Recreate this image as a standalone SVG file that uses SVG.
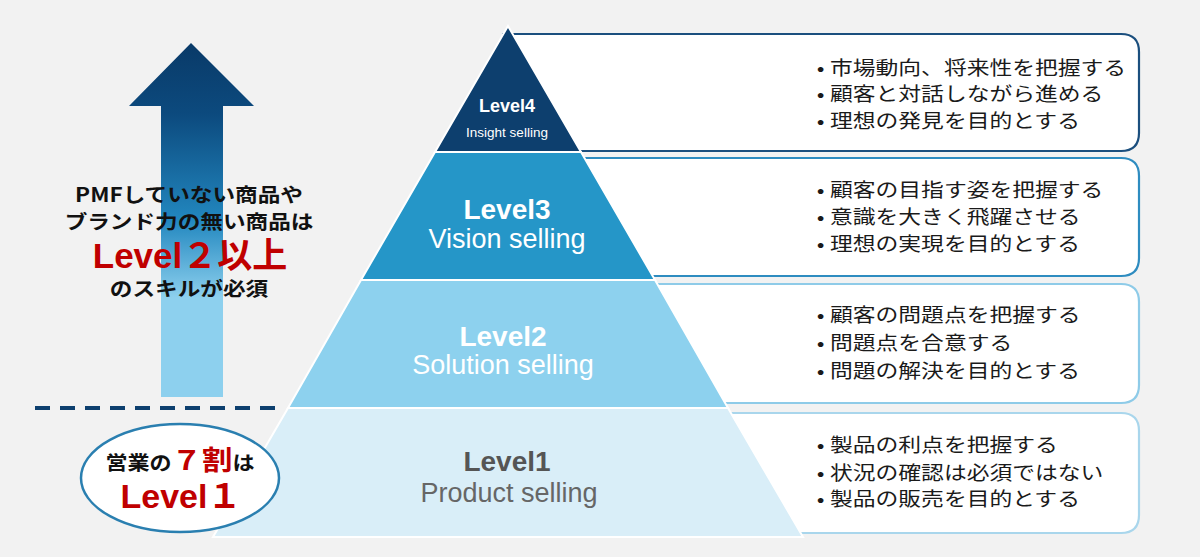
<svg xmlns="http://www.w3.org/2000/svg" width="1200" height="557" viewBox="0 0 1200 557">
<defs>
<linearGradient id="arrowGrad" gradientUnits="userSpaceOnUse" x1="0" y1="43" x2="0" y2="397">
<stop offset="0" stop-color="#093a68"/>
<stop offset="0.2" stop-color="#0c4a7e"/>
<stop offset="0.5" stop-color="#2287bf"/>
<stop offset="0.72" stop-color="#8dd0ee"/>
<stop offset="1" stop-color="#8dd0ee"/>
</linearGradient>
</defs>
<style>
.box{fill:#ffffff;stroke-width:2.2}
.band{stroke:#ffffff;stroke-width:2}
.bul{font-family:"Noto Sans CJK JP","Noto Sans",sans-serif;font-size:19px;fill:#1a1a1a}
.lvB{font-family:"Liberation Sans",Arial,sans-serif;font-weight:bold;font-size:28px;text-anchor:middle}
.lvS{font-family:"Liberation Sans",Arial,sans-serif;font-size:27px;text-anchor:middle}
.jp{font-family:"Noto Sans CJK JP",sans-serif;font-weight:bold;fill:#111111;text-anchor:middle}
.lat{font-family:"Liberation Sans","Noto Sans CJK JP",sans-serif;font-weight:bold;text-anchor:middle}
.red{fill:#c00000}
</style>
<rect width="1200" height="557" fill="#f2f2f2"/>

<g id="connectors">
<path d="M191,43 L254,106 L223,106 L223,397 L161,397 L161,106 L129,106 Z" fill="url(#arrowGrad)"/>
<line x1="35" y1="408" x2="276" y2="408" stroke="#0d3f6e" stroke-width="4" stroke-dasharray="15 10"/>
</g>

<g id="box4">
<path class="box" stroke="#1b4f7e" d="M504,34 H1121 Q1139,34 1139,52 V133 Q1139,151 1121,151 H572 Z"/>
<g transform="translate(830 0) scale(1.2 1)">
<text class="bul" x="-11" y="75">•<tspan x="0">市場動向、将来性を把握する</tspan></text>
<text class="bul" x="-11" y="101.5">•<tspan x="0">顧客と対話しながら進める</tspan></text>
<text class="bul" x="-11" y="128">•<tspan x="0">理想の発見を目的とする</tspan></text>
</g>
</g>
<g id="box3">
<path class="box" stroke="#2e8cc0" d="M576,158 H1121 Q1139,158 1139,176 V258 Q1139,276 1121,276 H644 Z"/>
<g transform="translate(830 0) scale(1.2 1)">
<text class="bul" x="-11" y="197.5">•<tspan x="0">顧客の目指す姿を把握する</tspan></text>
<text class="bul" x="-11" y="224.5">•<tspan x="0">意識を大きく飛躍させる</tspan></text>
<text class="bul" x="-11" y="251.5">•<tspan x="0">理想の実現を目的とする</tspan></text>
</g>
</g>
<g id="box2">
<path class="box" stroke="#8ecbe8" d="M649,284 H1121 Q1139,284 1139,302 V385 Q1139,403 1121,403 H717 Z"/>
<g transform="translate(830 0) scale(1.2 1)">
<text class="bul" x="-11" y="322.5">•<tspan x="0">顧客の問題点を把握する</tspan></text>
<text class="bul" x="-11" y="350.5">•<tspan x="0">問題点を合意する</tspan></text>
<text class="bul" x="-11" y="378">•<tspan x="0">問題の解決を目的とする</tspan></text>
</g>
</g>
<g id="box1">
<path class="box" stroke="#a9d6ec" d="M723,413 H1121 Q1139,413 1139,431 V515 Q1139,533 1121,533 H792 Z"/>
<g transform="translate(830 0) scale(1.2 1)">
<text class="bul" x="-11" y="452.5">•<tspan x="0">製品の利点を把握する</tspan></text>
<text class="bul" x="-11" y="480">•<tspan x="0">状況の確認は必須ではない</tspan></text>
<text class="bul" x="-11" y="506.5">•<tspan x="0">製品の販売を目的とする</tspan></text>
</g>
</g>

<g id="level4">
<polygon class="band" fill="#0d3f6e" points="508,26 581,152 435,152"/>
<text x="507" y="112" font-family="Liberation Sans, Arial, sans-serif" font-weight="bold" font-size="18" fill="#ffffff" text-anchor="middle">Level4</text>
<text x="507" y="137" font-family="Liberation Sans, Arial, sans-serif" font-size="13.5" fill="#ffffff" text-anchor="middle">Insight selling</text>
</g>
<g id="level3">
<polygon class="band" fill="#2596c8" points="435,152 581,152 655,280 361,280"/>
<text class="lvB" x="507" y="219" fill="#ffffff">Level3</text>
<text class="lvS" x="507" y="248" fill="#ffffff">Vision selling</text>
</g>
<g id="level2">
<polygon class="band" fill="#8dd1ee" points="361,280 655,280 728,408 288,408"/>
<text class="lvB" x="503" y="346" fill="#ffffff">Level2</text>
<text class="lvS" x="503" y="374" fill="#ffffff">Solution selling</text>
</g>
<g id="level1">
<polygon class="band" fill="#d9eef8" points="288,408 728,408 803,537 213,537"/>
<text class="lvB" x="507" y="471" fill="#555555">Level1</text>
<text class="lvS" x="509" y="502" fill="#666666">Product selling</text>
</g>

<g id="note">
<g transform="translate(189 0) scale(1.16 1)">
<text class="jp" x="0" y="202" font-size="19.5">PMFしていない商品や</text>
<text class="jp" x="0" y="229" font-size="19.5">ブランド力の無い商品は</text>
<text class="jp" x="0" y="296" font-size="19.5">のスキルが必須</text>
</g>
<text class="lat red" x="190" y="268" font-size="35">Level２以上</text>
</g>

<g id="ellipse">
<ellipse cx="180" cy="478" rx="99" ry="54" fill="#ffffff" stroke="#2a7fb0" stroke-width="2.5"/>
<g transform="translate(180 0) scale(1.13 1)">
<text class="jp" x="0" y="470" font-size="19.5">営業の<tspan class="red" font-size="27">７割</tspan>は</text>
</g>
<text class="lat red" x="181" y="508" font-size="34">Level１</text>
</g>
</svg>
